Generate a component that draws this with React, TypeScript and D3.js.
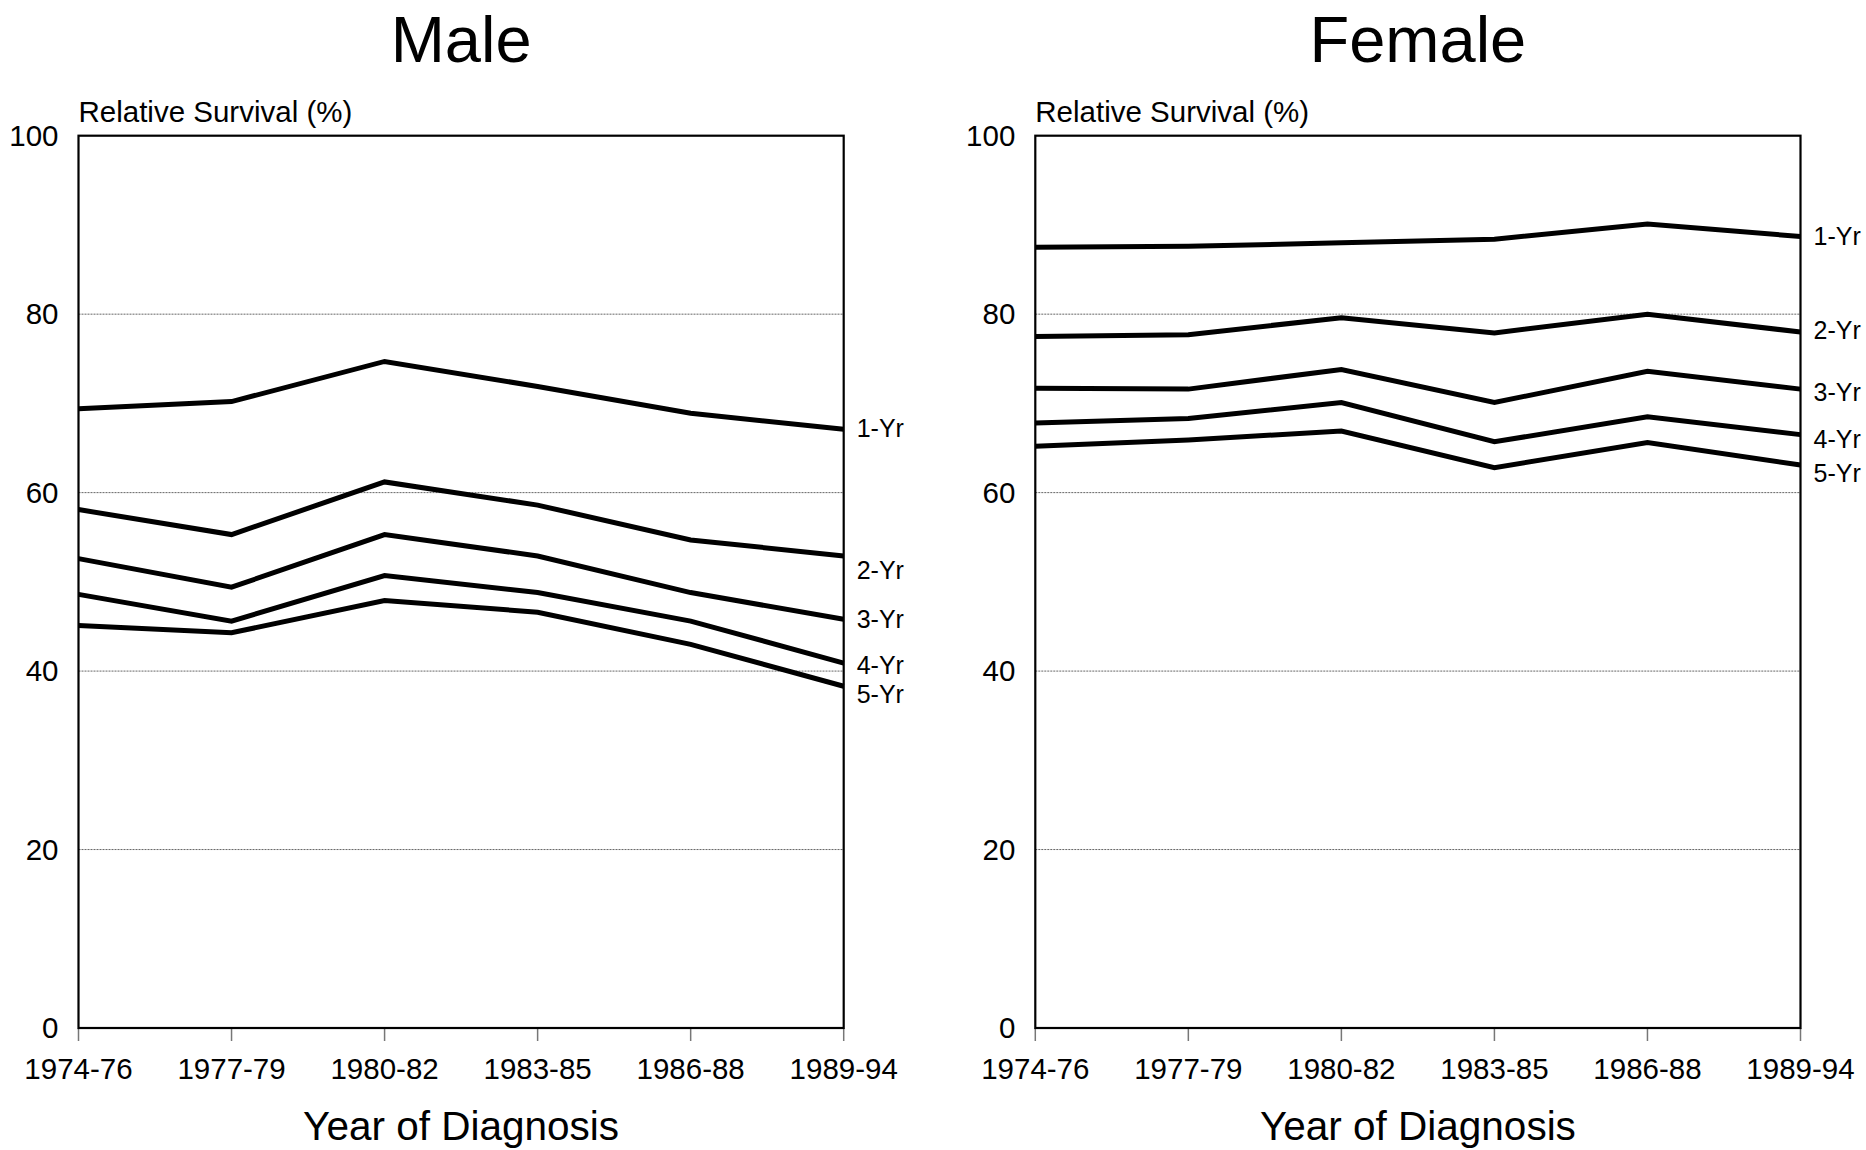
import React from "react";
import * as d3 from "d3";

const periods = ["1974-76", "1977-79", "1980-82", "1983-85", "1986-88", "1989-94"];
const seriesNames = ["1-Yr", "2-Yr", "3-Yr", "4-Yr", "5-Yr"];
const yTicks = [0, 20, 40, 60, 80, 100];

const male1 = [69.4, 70.2, 74.7, 71.9, 68.9, 67.1];
const male2 = [58.1, 55.3, 61.2, 58.6, 54.7, 52.9];
const male3 = [52.6, 49.4, 55.3, 52.9, 48.8, 45.8];
const male4 = [48.6, 45.6, 50.7, 48.8, 45.6, 40.9];
const male5 = [45.1, 44.3, 47.9, 46.6, 43.0, 38.3];

const female1 = [87.5, 87.6, 88.0, 88.4, 90.1, 88.7];
const female2 = [77.5, 77.7, 79.6, 77.9, 80.0, 78.0];
const female3 = [71.7, 71.6, 73.8, 70.1, 73.6, 71.6];
const female4 = [67.8, 68.3, 70.1, 65.7, 68.5, 66.5];
const female5 = [65.2, 65.9, 66.9, 62.8, 65.6, 63.1];

const maleSeries = [male1, male2, male3, male4, male5];
const femaleSeries = [female1, female2, female3, female4, female5];

const maleLabelNudge = [-1, 14, 0, 2, 8];
const femaleLabelNudge = [0, -2, 3, 5, 8];

const FONT = "'Liberation Sans', Arial, sans-serif";

function Panel({ title, x0, x1, series, nudge }: { title: string; x0: number; x1: number; series: number[][]; nudge: number[] }) {
  const x = d3.scalePoint<string>().domain(periods).range([x0, x1]);
  const y = d3.scaleLinear().domain([0, 100]).range([1028, 135.7]);
  const line = d3
    .line<number>()
    .x((_, i) => x(periods[i]) as number)
    .y((d) => y(d));
  const cx = (x0 + x1) / 2;
  return (
    <g fontFamily={FONT}>
      <text x={cx} y={62} fontSize={65} textAnchor="middle">{title}</text>
      <text x={x0} y={122} fontSize={29.5}>Relative Survival (%)</text>
      {yTicks.filter((t) => t > 0 && t < 100).map((t) => (
        <line key={"g" + t} x1={x0} x2={x1} y1={y(t)} y2={y(t)} stroke="#666" strokeWidth={1} strokeDasharray="2,1" />
      ))}
      {yTicks.map((t) => (
        <text key={"yt" + t} x={x0 - 20} y={y(t)} dy="0.35em" fontSize={29.5} textAnchor="end">{t}</text>
      ))}
      {periods.map((p) => (
        <g key={p}>
          <line x1={x(p)} x2={x(p)} y1={y(0)} y2={y(0) + 13} stroke="#777" strokeWidth={1.5} />
          <text x={x(p)} y={1079} fontSize={29.5} textAnchor="middle">{p}</text>
        </g>
      ))}
      <rect x={x0} y={y(100)} width={x1 - x0} height={y(0) - y(100)} fill="none" stroke="#000" strokeWidth={2.2} />
      {series.map((s, i) => (
        <path key={"s" + i} d={line(s) || ""} fill="none" stroke="#000" strokeWidth={5} strokeLinejoin="miter" />
      ))}
      {series.map((s, i) => (
        <text key={"l" + i} x={x1 + 13} y={y(s[s.length - 1]) + nudge[i]} dy="0.35em" fontSize={25}>{seriesNames[i]}</text>
      ))}
      <text x={cx} y={1140} fontSize={40.5} textAnchor="middle">Year of Diagnosis</text>
    </g>
  );
}

export default function App() {
  return (
    <div style={{ position: "absolute", left: 0, top: 0 }}>
      <svg width={1866} height={1150} style={{ display: "block", background: "#fff" }}>
        <rect width={1866} height={1150} fill="#fff" />
        <Panel title="Male" x0={78.5} x1={843.7} series={maleSeries} nudge={maleLabelNudge} />
        <Panel title="Female" x0={1035.3} x1={1800.5} series={femaleSeries} nudge={femaleLabelNudge} />
      </svg>
    </div>
  );
}
